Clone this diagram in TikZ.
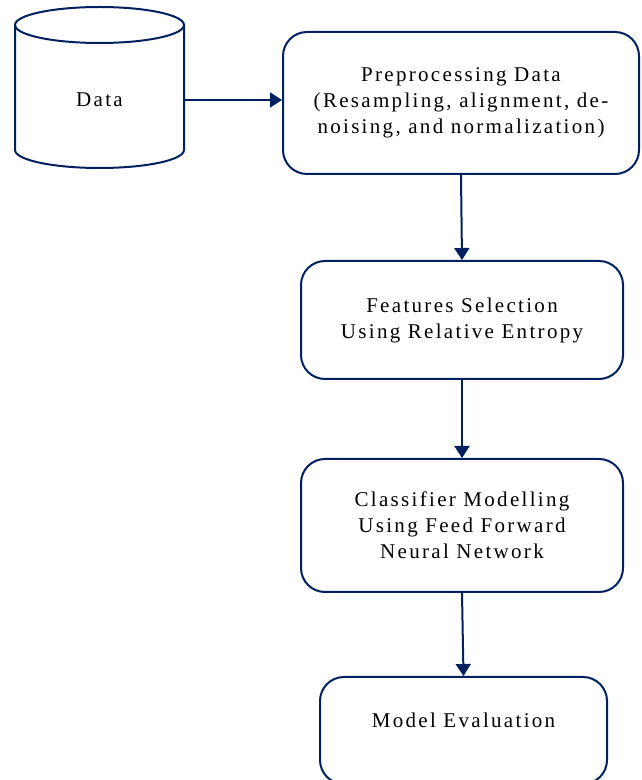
\documentclass[tikz,border=0pt]{standalone}
\usepackage{fontspec}
\setmainfont{Liberation Serif}[LetterSpace=11]
\usetikzlibrary{arrows.meta}
\definecolor{navy}{RGB}{0,32,96}
\tikzset{
  flow/.style={draw=navy, line width=2pt, rounded corners=24pt, align=center,
    font=\fontsize{21}{26}\selectfont},
  link/.style={navy, line width=2pt, -{Triangle[length=12pt,width=15pt]}}
}

\begin{document}
\begin{tikzpicture}[x=1pt,y=1pt]
    \useasboundingbox (0,0) rectangle (641,780);
    % the data store
    \draw[navy, line width=2pt] (99.5,755) ellipse [x radius=84.5, y radius=18];
    \draw[navy, line width=2pt] (15,755) -- (15,630)
        arc [start angle=180, end angle=360, x radius=84.5, y radius=18] -- (184,755);
    \node[minimum width=169pt, inner sep=0pt, font=\fontsize{21}{26}\selectfont] (data) at (99.5,680) {Data};
    % the steps
    \node[flow, minimum width=356pt, minimum height=142pt] (pre) at (461,677)
        {Preprocessing Data\\(Resampling, alignment, de-\\noising, and normalization)};
    \node[flow, minimum width=322pt, minimum height=118pt] (feat) at (462,460)
        {Features Selection\\Using Relative Entropy};
    \node[flow, minimum width=322pt, minimum height=133pt] (clf) at (462,254.5)
        {Classifier Modelling\\Using Feed Forward\\Neural Network};
    \node[flow, minimum width=287pt, minimum height=107pt, text depth=20pt] (eval) at (463.5,49.5)
        {Model Evaluation};
    % arrows
    \draw[link] (data.east) -- (data.east -| pre.west);
    \draw[link] (pre.south) -- (feat.north);
    \draw[link] (feat.south) -- (clf.north);
    \draw[link] (clf.south) -- (eval.north);
\end{tikzpicture}
\end{document}
